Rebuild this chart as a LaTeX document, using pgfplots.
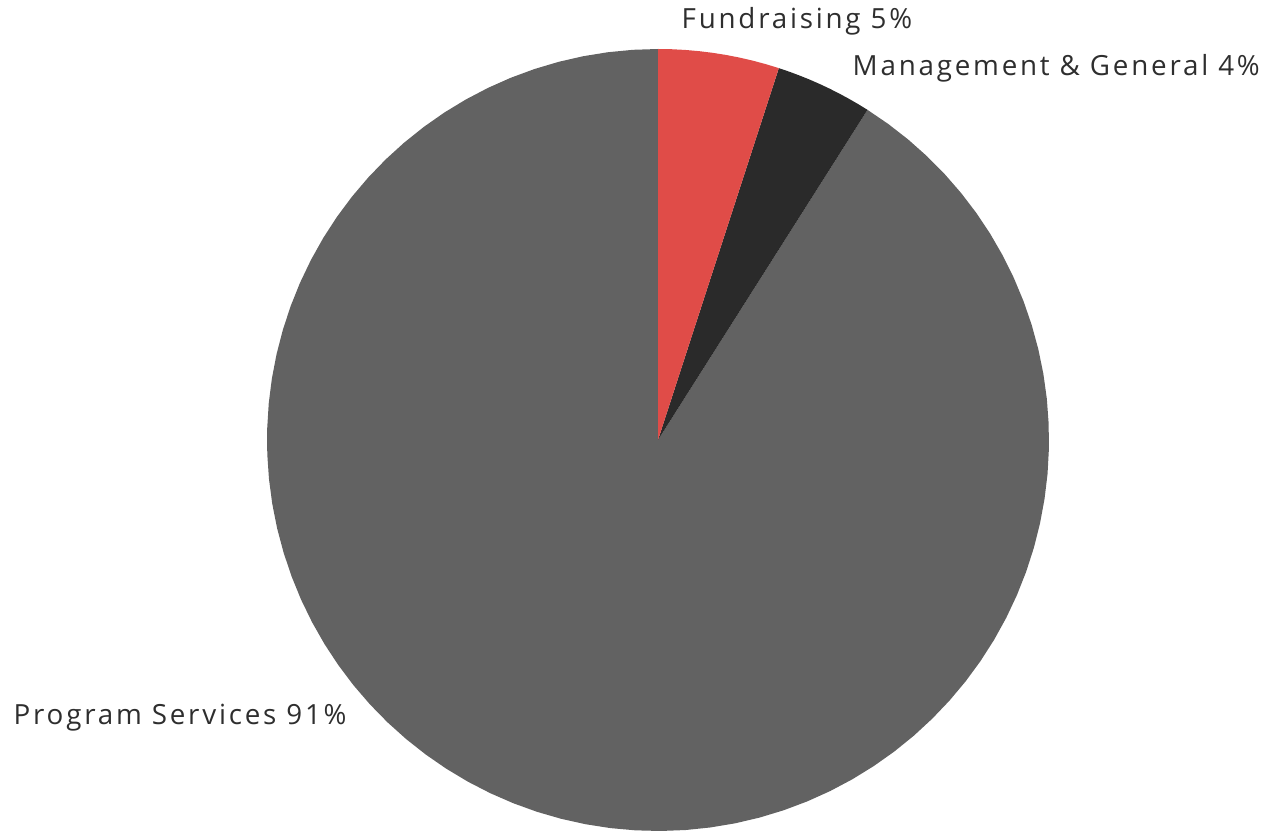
\documentclass[border=0pt]{standalone}
\usepackage{pgfplots}
\pgfplotsset{compat=1.18}
\usepackage{fontspec}
\setmainfont[LetterSpace=10]{Open Sans}
\definecolor{progGray}{RGB}{98,98,98}
\definecolor{fundRed}{RGB}{224,76,72}
\definecolor{mgmtDark}{RGB}{42,42,42}
\tikzset{lbl/.style={anchor=base west, inner sep=0, font=\fontsize{7.9}{9}\selectfont, text=black!82}}
% shares in percent, clockwise from 12 o'clock
\def\fund{5}
\def\mgmt{4}
\def\prog{91}
\def\cx{658}\def\cy{391}\def\rr{391}
\pgfmathsetmacro{\aA}{90}
\pgfmathsetmacro{\aB}{\aA-3.6*\fund}
\pgfmathsetmacro{\aC}{\aB-3.6*\mgmt}
\pgfmathsetmacro{\aD}{\aC-3.6*\prog}
\begin{document}
\begin{tikzpicture}
\begin{axis}[
    hide axis, scale only axis, clip=false,
    width=12.8cm, height=8.31cm,
    xmin=0, xmax=1280, ymin=0, ymax=831,
    every axis plot/.append style={draw=none, samples=90},
  ]
  \addplot[draw=none, forget plot] coordinates {(0,0) (1280,831)};
  \addplot[fill=progGray, domain=\aD:\aC] ({\cx+\rr*cos(x)},{\cy+\rr*sin(x)}) -- (axis cs:\cx,\cy) -- cycle;
  \addplot[fill=mgmtDark, domain=\aC:\aB, samples=10] ({\cx+\rr*cos(x)},{\cy+\rr*sin(x)}) -- (axis cs:\cx,\cy) -- cycle;
  \addplot[fill=fundRed, domain=\aB:\aA, samples=10] ({\cx+\rr*cos(x)},{\cy+\rr*sin(x)}) -- (axis cs:\cx,\cy) -- cycle;
  \node[lbl] at (axis cs:681,802) {Fundraising 5\%};
  \node[lbl] at (axis cs:852,755) {Management \& General 4\%};
  \node[lbl] at (axis cs:13,107) {Program Services 91\%};
\end{axis}
\end{tikzpicture}
\end{document}
